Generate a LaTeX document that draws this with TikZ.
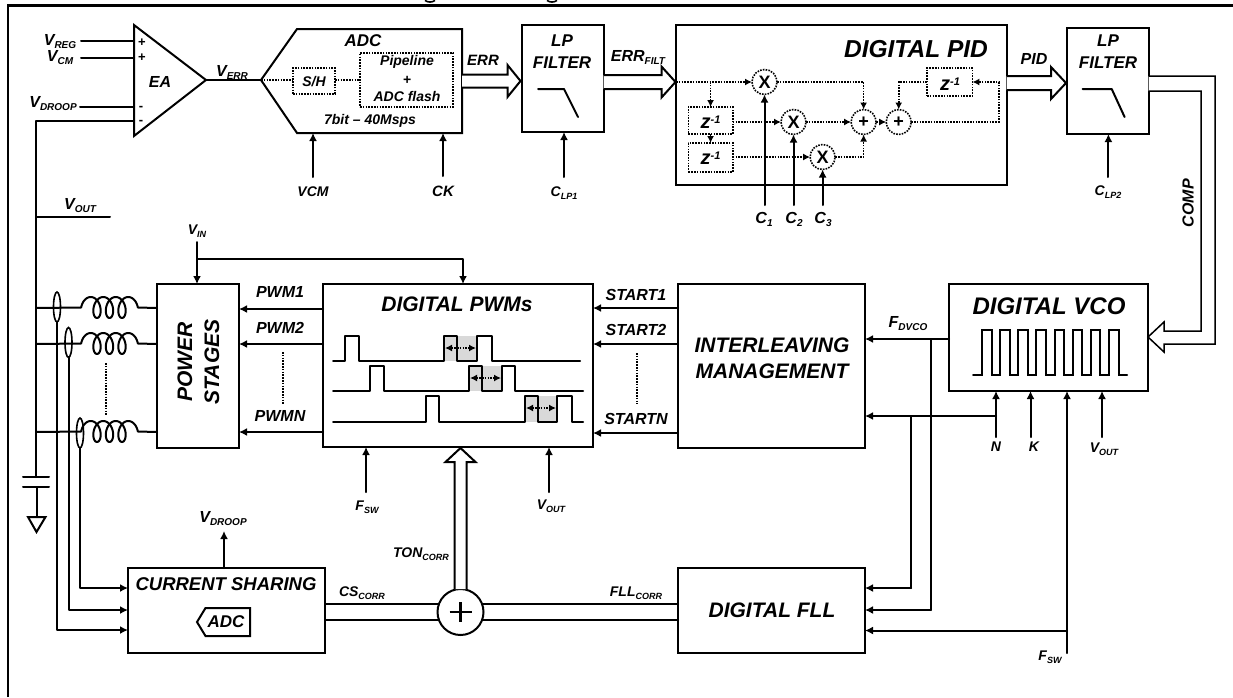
\documentclass[tikz,border=0pt]{standalone}
\usepackage{fontspec}
\setmainfont{Liberation Sans}
\usetikzlibrary{arrows.meta,calc,shapes.geometric}
\newcommand\subt[2][10]{\raisebox{-3pt}{\fontsize{#1}{#1}\selectfont #2}}
\newcommand\fs[1]{\fontsize{#1}{#1}\selectfont}
\newcommand\blk[5]{\node[blk,minimum width={(#4-#2)*1pt},minimum height={(#5-#3)*1pt}] (#1) at ({(#2+#4)/2},{(#3+#5)/2}) {};}
\newcommand\dblk[5]{\node[dblk,minimum width={(#4-#2)*1pt},minimum height={(#5-#3)*1pt}] (#1) at ({(#2+#4)/2},{(#3+#5)/2}) {};}
\newcommand\hollowR[5]{\draw[hollow] let \p1=(#1),\p2=(#2) in (\x1,\y1+#3pt) -- (\x2-#5pt,\y1+#3pt) -- (\x2-#5pt,\y1+#4pt) -- (\x2,\y1) -- (\x2-#5pt,\y1-#4pt) -- (\x2-#5pt,\y1-#3pt) -- (\x1,\y1-#3pt);}
\newcommand\hollowU[5]{\draw[hollow] let \p1=(#1),\p2=(#2) in (\x1-#3pt,\y1) -- (\x1-#3pt,\y2-#5pt) -- (\x1-#4pt,\y2-#5pt) -- (\x1,\y2) -- (\x1+#4pt,\y2-#5pt) -- (\x1+#3pt,\y2-#5pt) -- (\x1+#3pt,\y1);}
\newcommand\phaseline[1]{\draw[wire] (bus |- 0,#1) -- plot[domain=-270:990,samples=160,smooth] ({97+12.5*\x/360-6.5*sin(\x)},{#1-0.5+10.5*cos(\x)}) -- (ps.west |- 0,#1);}
\newcommand\zinv{z\raisebox{5pt}{\fs{11}-1}}
\tikzset{
  wire/.style={line width=2pt,line cap=round,line join=round},
  arr/.style={wire,-{Latex[length=8pt,width=8pt]}},
  dot/.style={line width=1.6pt,dash pattern=on 1.6pt off 1.2pt},
  dar/.style={dot,-{Latex[length=7pt,width=7pt]}},
  blk/.style={draw,rectangle,line width=2pt,inner sep=0pt,outer sep=0pt},
  dblk/.style={draw,rectangle,dot,inner sep=0pt,outer sep=0pt},
  dcirc/.style={draw,circle,dot,inner sep=0pt,outer sep=0pt,minimum size=25pt,fill=white,font=\bfseries\fs{18}},
  hollow/.style={line width=2pt,line join=miter,fill=white},
  lab/.style={inner sep=0pt,outer sep=0pt,font=\bfseries\itshape\fs{16}},
  ttl/.style={inner sep=0pt,outer sep=0pt,font=\bfseries\itshape\fs{21}},
  sml/.style={inner sep=0pt,outer sep=0pt,font=\bfseries\itshape\fs{14}},
  oval/.style={draw,ellipse,line width=1.6pt,inner sep=0pt,outer sep=0pt,minimum width=7pt,minimum height=30pt},
}
\begin{document}
\begin{tikzpicture}[x=1pt,y=-1pt]
\useasboundingbox (0,0) rectangle (1233,697);
\fill[white] (0,0) rectangle (1233,697);
% frame and cropped title descenders
\draw[line width=2.6pt] (8,697) -- (8,5.5) -- (1233,5.5);
\draw[line width=1.6pt] (425,0.4) .. controls (428,2.6) and (432,2.6) .. (435,0.4);
\draw[line width=1.6pt] (547,0.4) .. controls (550,2.6) and (554,2.6) .. (557,0.4);

% ---------- EA
\coordinate (eaT) at (134,25); \coordinate (eaB) at (134,136); \coordinate (eaO) at (206,80);
\draw[wire,line join=miter] (eaT) -- (eaO) -- (eaB) -- cycle;
\node[lab,font=\bfseries\itshape\fs{16}] (ea) at (160,82) {EA};
\node[inner sep=0pt,font=\bfseries\fs{13}] (pl1) at (142,43) {+};
\node[inner sep=0pt,font=\bfseries\fs{13}] (pl2) at (142,58) {+};
\node[inner sep=0pt,font=\bfseries\fs{13}] (mi1) at (141,108) {-};
\node[inner sep=0pt,font=\bfseries\fs{13}] (mi2) at (141,122) {-};
\node[lab] (vreg) at (60,42) {V\subt{REG}};
\node[lab] (vcm) at (60,58) {V\subt{CM}};
\node[lab] (vdroopin) at (53,104) {V\subt{DROOP}};
\coordinate (i1) at (81,41); \coordinate (i2) at (81,58); \coordinate (i3) at (80,107);
\draw[wire] (i1) -- (i1 -| eaT);
\draw[wire] (i2) -- (i2 -| eaT);
\draw[wire] (i3) -- (i3 -| eaT);
\coordinate (en) at (134,121); \coordinate (cap1) at (36,477); \coordinate (bus) at (36,300);
\draw[wire] (en) -| (cap1);
\coordinate (voutT) at (110,216.5);
\draw[wire] (voutT) -- (voutT -| bus);
\node[lab] (voutl) at (80,206) {V\subt{OUT}};
% capacitor + ground
\coordinate (cap2) at (36.5,487); \coordinate (gnd) at (36.5,517);
\draw[wire] (23,477) -- (49,477);
\draw[wire] (23,487) -- (49,487);
\draw[wire] (cap2) -- (gnd);
\draw[wire,line join=miter] (28,517) -- (45.5,517) -- (36.5,532) -- cycle;

% ---------- ADC
\coordinate (adcI) at (261,80);
\draw[wire,line join=miter] (adcI) -- (297,29) -- (462,29) -- (462,133) -- (297,133) -- cycle;
\draw[wire] (eaO) -- (adcI);
\node[lab] (verr) at (232,72) {V\subt{ERR}};
\node[lab,font=\bfseries\itshape\fs{17}] (adct) at (363,41) {ADC};
\dblk{sh}{293}{68}{335}{94}
\dblk{pipe}{360}{53}{453}{107}
\node[sml] (shl) at (314,82) {S/H};
\node[sml] (pl) at (407,62) {Pipeline};
\node[sml] (pp) at (407,80) {+};
\node[sml] (pf) at (407,96) {ADC flash};
\node[sml] (bits) at (370,121) {7bit – 40Msps};
\draw[dot] (adcI) -- (adcI -| sh.west);
\draw[dot] (adcI -| sh.east) -- (adcI -| pipe.west);
\coordinate (vcmS) at (313,177); \coordinate (ckS) at (443,176);
\draw[arr] (vcmS) -- (313,133);
\draw[arr] (ckS) -- (443,133);
\node[sml] (vcml) at (313,192) {VCM};
\node[sml,font=\bfseries\itshape\fs{15}] (ckl) at (443,191) {CK};

% ---------- LP filter 1
\blk{lp1}{521.5}{25}{603.6}{132}
\node[lab,font=\bfseries\itshape\fs{17}] (lp1a) at (562,41) {LP};
\node[lab,font=\bfseries\itshape\fs{17}] (lp1b) at (562,63) {FILTER};
\draw[wire] (538,89) -- (564,89) -- (578,117);
\coordinate (errS) at (462,81); \coordinate (errE) at (520.5,81);
\hollowR{errS}{errE}{6.5}{16}{13}
\node[sml,font=\bfseries\itshape\fs{15}] (errl) at (483,60) {ERR};
\coordinate (c1S) at (564,177);
\draw[arr] (c1S) -- (c1S |- lp1.south);
\node[sml] (clp1) at (564,193) {C\subt[9]{LP1}};

% ---------- PID
\blk{pid}{676}{25}{1006.5}{185}
\node[lab,font=\bfseries\itshape\fs{24.5}] (pidt) at (916,49) {DIGITAL PID};
\coordinate (fltS) at (603.6,82); \coordinate (fltE) at (675.5,82);
\hollowR{fltS}{fltE}{7}{15.5}{14}
\node[lab] (errf) at (638,57) {ERR\subt{FILT}};
\node[dcirc] (x1) at (764.5,82) {X};
\node[dcirc] (x2) at (793.5,122) {X};
\node[dcirc] (x3) at (822.6,157) {X};
\node[dcirc] (p1) at (863.6,122) {+};
\node[dcirc] (p2) at (898.7,122) {+};
\dblk{z1}{688.4}{107}{732.7}{134}
\dblk{z2}{688.4}{143}{732.7}{172}
\dblk{z3}{927}{68}{972.4}{96}
\node[lab,font=\bfseries\itshape\fs{20}] (z1l) at (710.5,122) {\zinv};
\node[lab,font=\bfseries\itshape\fs{20}] (z2l) at (710.5,158) {\zinv};
\node[lab,font=\bfseries\itshape\fs{20}] (z3l) at (950,84) {\zinv};
\coordinate (pidI) at (676,82); \coordinate (fb) at (998.7,82);
\draw[dar] (pidI) -- (x1.west);
\draw[dar] (pidI -| z1.north) -- (z1.north);
\draw[dar] (z1.south) -- (z2.north);
\draw[dar] (z1.east |- x2.west) -- (x2.west);
\draw[dar] (z2.east |- x3.west) -- (x3.west);
\draw[dar] (x1.east) -| (p1.north);
\draw[dar] (x2.east) -- (p1.west);
\draw[dar] (x3.east) -| (p1.south);
\draw[dar] (p1.east) -- (p2.west);
\draw[dar] (p2.east) -| (fb) -- (z3.east);
\draw[dar] (z3.west) -| (p2.north);
\coordinate (c1) at (764.5,205); \coordinate (c2) at (793.5,205); \coordinate (c3) at (822.6,205);
\draw[arr] (c1) -- (x1.south);
\draw[arr] (c2) -- (x2.south);
\draw[arr] (c3) -- (x3.south);
\node[lab] (c1l) at (764,219) {C\subt{1}};
\node[lab] (c2l) at (794,219) {C\subt{2}};
\node[lab] (c3l) at (823,219) {C\subt{3}};

% ---------- LP filter 2
\blk{lp2}{1066.5}{28}{1148.5}{134}
\node[lab,font=\bfseries\itshape\fs{17}] (lp2a) at (1108,41) {LP};
\node[lab,font=\bfseries\itshape\fs{17}] (lp2b) at (1108,63) {FILTER};
\draw[wire] (1082.6,89) -- (1111.7,89) -- (1124.6,117);
\coordinate (pidS) at (1006.5,83); \coordinate (pidE) at (1066,83);
\hollowR{pidS}{pidE}{7}{16}{15}
\node[lab] (pidl) at (1034,59) {PID};
\coordinate (c2S) at (1108.4,177);
\draw[arr] (c2S) -- (c2S |- lp2.south);
\node[sml] (clp2) at (1108,192) {C\subt[9]{LP2}};

% ---------- DIGITAL VCO
\blk{vco}{949}{284}{1148}{391}
\node[lab,font=\bfseries\itshape\fs{24}] (vcot) at (1049,306) {DIGITAL VCO};
\draw[wire,line join=miter] (973,375) foreach \k in {0,...,7} { -- ({982+18.15*\k},375) -- ({982+18.15*\k},330) -- ({991.5+18.15*\k},330) -- ({991.5+18.15*\k},375)} -- (1127,375);
\draw[hollow,line width=1.5pt] (lp2.east |- 0,76) -- (1215,76) -- (1215,344) -- (1164,344) -- (1164,352) -- (vco.east |- 0,337) -- (1164,322) -- (1164,331) -- (1201,331) -- (1201,91) -- (lp2.east |- 0,91);
\node[lab,rotate=90] (comp) at (1188,203) {COMP};

% ---------- Interleaving
\blk{il}{678}{284}{865}{448}
\node[ttl] (il1) at (772,345) {INTERLEAVING};
\node[ttl] (il2) at (772,371) {MANAGEMENT};
\coordinate (fd) at (949,339); \coordinate (nf) at (996,416);
\draw[arr] (fd) -- (fd -| il.east);
\draw[arr] (nf) -- (nf -| il.east);
\node[lab] (fdl) at (908,324) {F\subt{DVCO}};
\coordinate (nS) at (996,437); \coordinate (kS) at (1030.5,437); \coordinate (vS) at (1102,437); \coordinate (fS) at (1067,653);
\draw[arr] (nS) -- (nS |- vco.south);
\draw[arr] (kS) -- (kS |- vco.south);
\draw[arr] (vS) -- (vS |- vco.south);
\draw[arr] (fS) -- (fS |- vco.south);
\node[sml] (nl) at (996,447) {N};
\node[sml] (kl) at (1034,447) {K};
\node[sml] (voutv) at (1104,449) {V\subt[9]{OUT}};
\node[sml] (fswr) at (1050,657) {F\subt[9]{SW}};

% ---------- Digital PWMs
\blk{dpwm}{323}{284}{593}{447}
\node[ttl] (pwmt) at (457,304) {DIGITAL PWMs};
\fill[black!15] (444,336) rectangle (477,361);
\fill[black!15] (469,366) rectangle (502,391);
\fill[black!15] (525,396) rectangle (557,422);
\draw[wire,line join=round] (333,361) -- (345,361) -- (345,336) -- (359,336) -- (359,361) -- (444,361) -- (444,336) -- (457,336) -- (457,361) -- (477,361) -- (477,336) -- (492,336) -- (492,361) -- (580,361);
\draw[wire,line join=round] (333,391) -- (370,391) -- (370,366) -- (384,366) -- (384,391) -- (469,391) -- (469,366) -- (482,366) -- (482,391) -- (502,391) -- (502,366) -- (515,366) -- (515,391) -- (583,391);
\draw[wire,line join=round] (333,422) -- (426,422) -- (426,396) -- (439,396) -- (439,422) -- (525,422) -- (525,396) -- (538,396) -- (538,422) -- (557,422) -- (557,396) -- (572,396) -- (572,422) -- (583,422);
\draw[dot,{Latex[length=7pt,width=7pt]}-{Latex[length=7pt,width=7pt]}] (445,348) -- (476,348);
\draw[dot,{Latex[length=7pt,width=7pt]}-{Latex[length=7pt,width=7pt]}] (470,378) -- (501,378);
\draw[dot,{Latex[length=7pt,width=7pt]}-{Latex[length=7pt,width=7pt]}] (526,408) -- (556,408);
\coordinate (st1) at (678,308); \coordinate (st2) at (678,344); \coordinate (stn) at (678,433);
\draw[arr] (st1) -- (st1 -| dpwm.east);
\draw[arr] (st2) -- (st2 -| dpwm.east);
\draw[arr] (stn) -- (stn -| dpwm.east);
\node[lab] (st1l) at (636,295) {START1};
\node[lab] (st2l) at (636,330) {START2};
\node[lab] (stnl) at (636,419) {STARTN};
\draw[dot] (637,353) -- (637,404);
\coordinate (fsS) at (366,492); \coordinate (voS) at (549,492);
\draw[arr] (fsS) -- (fsS |- dpwm.south);
\draw[arr] (voS) -- (voS |- dpwm.south);
\node[sml] (fswl) at (367,507) {F\subt[9]{SW}};
\node[sml] (voutl2) at (551,506) {V\subt[9]{OUT}};

% ---------- Power stages
\blk{ps}{157}{284}{239}{448}
\node[lab,font=\bfseries\itshape\fs{21},rotate=90] (psa) at (185,362) {POWER};
\node[lab,font=\bfseries\itshape\fs{21},rotate=90] (psb) at (212,362) {STAGES};
\coordinate (pw1) at (323,309); \coordinate (pw2) at (323,344); \coordinate (pwn) at (323,432);
\draw[arr] (pw1) -- (pw1 -| ps.east);
\draw[arr] (pw2) -- (pw2 -| ps.east);
\draw[arr] (pwn) -- (pwn -| ps.east);
\node[lab] (pw1l) at (280,292) {PWM1};
\node[lab] (pw2l) at (280,328) {PWM2};
\node[lab] (pwnl) at (280,416) {PWMN};
\draw[dot] (283,352) -- (283,405);
\draw[dot] (106,363) -- (106,415);
\node[sml] (vinl) at (197,231) {V\subt[9]{IN}};
\coordinate (vinS) at (197,242); \coordinate (vinB) at (197,259); \coordinate (vinT) at (463,284);
\draw[arr] (vinS) -- (vinS |- ps.north);
\draw[arr] (vinB) -| (vinT);
\phaseline{308}
\phaseline{344}
\phaseline{432}

% ---------- Current sharing
\blk{cs}{128}{568}{325}{653}
\node[lab,font=\bfseries\itshape\fs{18.5}] (cst) at (226,584) {CURRENT SHARING};
\draw[wire,line join=miter] (197,622) -- (205.5,608) -- (250,608) -- (250,636) -- (205.5,636) -- cycle;
\node[lab,font=\bfseries\itshape\fs{17}] (csa) at (226,622) {ADC};
\node[oval] (o1) at (57,307) {};
\node[oval] (o2) at (68.5,342.5) {};
\node[oval] (o3) at (80,433) {};
\coordinate (s1) at (128,630); \coordinate (s2) at (128,610); \coordinate (s3) at (128,588);
\draw[arr] (o1.south) |- (s1);
\draw[arr] (o2.south) |- (s2);
\draw[arr] (o3.south) |- (s3);
\coordinate (dr) at (224,531);
\draw[arr] (dr |- cs.north) -- (dr);
\node[lab] (drl) at (223,519) {V\subt{DROOP}};

% ---------- Digital FLL
\blk{fll}{678}{568}{865}{653}
\node[ttl] (fllt) at (772,610) {DIGITAL FLL};
\coordinate (f1) at (911,588); \coordinate (f2) at (930.5,610); \coordinate (f3) at (1067,630.5);
\draw[wire] (nf -| f1) -- (f1);
\draw[arr] (f1) -- (f1 -| fll.east);
\draw[wire] (fd -| f2) -- (f2);
\draw[arr] (f2) -- (f2 -| fll.east);
\draw[arr] (f3) -- (f3 -| fll.east);

% ---------- summing node
\node[draw,circle,line width=2pt,fill=white,inner sep=0pt,outer sep=0pt,minimum size=46pt] (sum) at (460.5,612) {};
\draw[line width=2.4pt] (449.5,612) -- (471.5,612);
\draw[line width=2.4pt] (460.5,602) -- (460.5,622);
\draw[wire] (cs.east |- sum.160) -- (sum.160);
\draw[wire] (cs.east |- sum.200) -- (sum.200);
\draw[wire] (sum.20) -- (fll.west |- sum.20);
\draw[wire] (sum.340) -- (fll.west |- sum.340);
\coordinate (tonE) at (460.5,448);
\hollowU{sum.north}{tonE}{6}{15}{14}
\node[sml] (tonl) at (421,554) {TON\subt[9]{CORR}};
\node[sml] (csl) at (362,593) {CS\subt[9]{CORR}};
\node[sml] (flll) at (636,593) {FLL\subt[9]{CORR}};
\end{tikzpicture}
\end{document}
